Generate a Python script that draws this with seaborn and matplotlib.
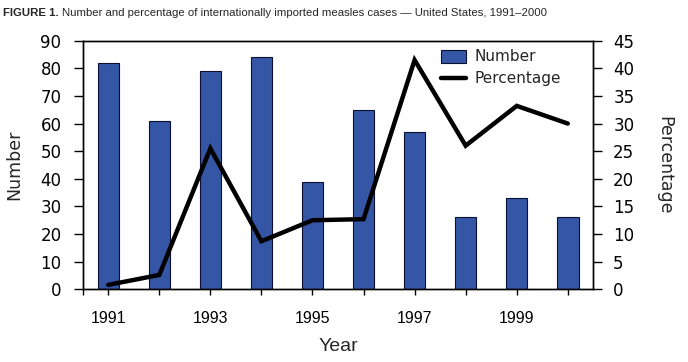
import numpy as np
import matplotlib
matplotlib.use("Agg")
import matplotlib.pyplot as plt
import seaborn as sns
from matplotlib.patches import Patch
from matplotlib.lines import Line2D

years = [1991, 1992, 1993, 1994, 1995, 1996, 1997, 1998, 1999, 2000]
number = [82, 61, 79, 84, 39, 65, 57, 26, 33, 26]
percentage = [0.8, 2.6, 25.5, 8.7, 12.5, 12.7, 41.5, 26.0, 33.2, 30.0]
year_labels = [str(y) if y % 2 == 1 else "" for y in years]

bar_color = "#3456a4"
edge_color = "#0b1033"

sns.set_style("ticks")
plt.rcParams['font.family'] = ['DejaVu Sans']
plt.rcParams['axes.edgecolor'] = 'black'
plt.rcParams['xtick.color'] = 'black'
plt.rcParams['ytick.color'] = 'black'

fig = plt.figure(figsize=(6.88, 3.62), dpi=100)
ax = fig.add_axes([0.1202, 0.2008, 0.7422, 0.6868])

sns.barplot(x=[str(y) for y in years], y=number, color=bar_color, saturation=1,
            edgecolor=edge_color, linewidth=0.8, width=0.42, ax=ax)

ax2 = ax.twinx()
sns.lineplot(x=np.arange(len(years)), y=percentage, color='black', linewidth=3.2,
             ax=ax2, solid_joinstyle='miter')

ax.set_xlim(-0.5, len(years) - 0.5)
ax.set_ylim(0, 90)
ax2.set_ylim(0, 45)
ax.set_yticks(range(0, 91, 10))
ax2.set_yticks(range(0, 46, 5))
ax.set_xticks(range(len(years)))
ax.set_xticklabels(year_labels, fontsize=11.5, family=['Liberation Sans', 'DejaVu Sans'])
ax.set_xticks([-0.5], minor=True)

for a in (ax, ax2):
    for s in a.spines.values():
        s.set_linewidth(1.0)
        s.set_color('black')

ax.tick_params(axis='y', direction='out', length=6.3, width=1, pad=9, labelsize=12)
ax2.tick_params(axis='y', direction='out', length=6.3, width=1, pad=8, labelsize=12)
ax.tick_params(axis='x', which='both', direction='out', length=4.3, width=1, pad=11)

ax.set_xlabel("Year", fontsize=14, family=['Liberation Sans', 'DejaVu Sans'], labelpad=9)
ax.set_ylabel("Number", fontsize=12.5, labelpad=12)
ax2.set_ylabel("Percentage", fontsize=12.5, rotation=270, labelpad=28)

handles = [Patch(facecolor=bar_color, edgecolor=edge_color, linewidth=0.8),
           Line2D([], [], color='black', linewidth=3.2)]
ax2.legend(handles, ["Number", "Percentage"], loc='upper left',
           bbox_to_anchor=(0.675, 1.02), frameon=False, fontsize=11,
           handlelength=1.6, handleheight=0.9, labelspacing=0.45, handletextpad=0.6)

title_fam = ['Liberation Sans Narrow', 'Liberation Sans', 'DejaVu Sans']
t1 = fig.text(0.005, 0.965, "FIGURE 1.", fontsize=8.2, weight='bold',
              family=title_fam, va='center')
fig.canvas.draw()
bb = t1.get_window_extent()
x1 = fig.transFigure.inverted().transform((bb.x1 + 3, 0))[0]
fig.text(x1, 0.965, "Number and percentage of internationally imported measles cases \u2014 United States, 1991\u20132000",
         fontsize=8.2, family=title_fam, va='center')

fig.savefig("out.png", dpi=100)
